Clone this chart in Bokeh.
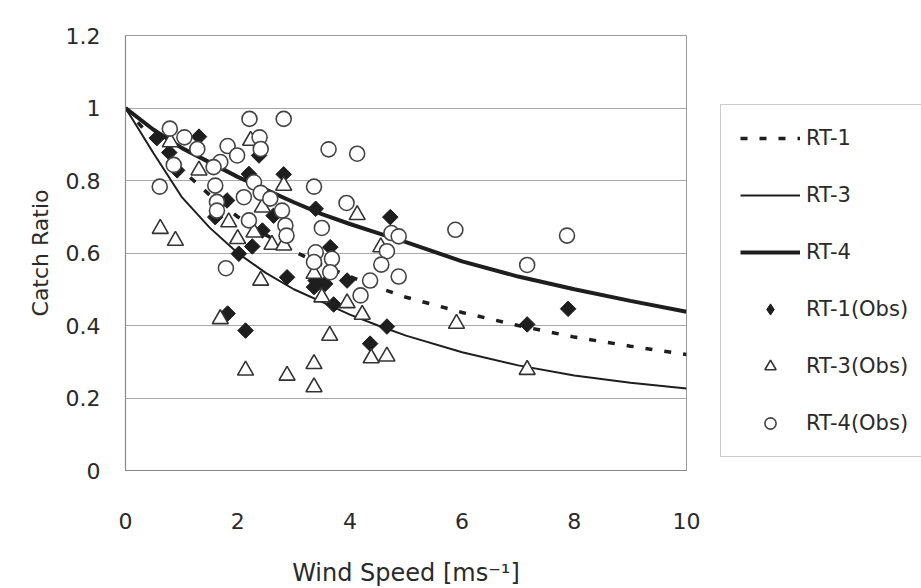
from bokeh.plotting import figure
from bokeh.models import Legend, LegendItem, Range1d, FixedTicker
from bokeh.embed import file_html
from bokeh.resources import INLINE

# ---- data ----
curve_x = [0, 0.5, 1, 1.5, 2, 2.5, 3, 3.5, 4, 4.5, 5, 6, 7, 8, 9, 10]
rt1_curve = [1.0, 0.91, 0.83, 0.76, 0.70, 0.65, 0.605, 0.567, 0.535, 0.505, 0.478, 0.436, 0.40, 0.368, 0.343, 0.32]
rt3_curve = [1.0, 0.875, 0.755, 0.67, 0.60, 0.545, 0.50, 0.465, 0.43, 0.40, 0.372, 0.326, 0.29, 0.262, 0.242, 0.226]
rt4_curve = [1.0, 0.94, 0.89, 0.85, 0.81, 0.775, 0.74, 0.707, 0.68, 0.655, 0.63, 0.577, 0.535, 0.50, 0.468, 0.438]

rt1_obs_x = [0.56, 0.78, 0.92, 1.31, 2.38, 2.20, 2.82, 3.39, 1.60, 1.81, 2.64, 2.44, 2.26, 2.02,
             2.88, 3.36, 3.39, 3.56, 3.95, 4.72, 3.65, 3.71, 4.66, 4.36, 1.82, 2.14, 7.89, 7.16]
rt1_obs_y = [0.917, 0.877, 0.828, 0.921, 0.869, 0.818, 0.817, 0.722, 0.699, 0.745, 0.703, 0.662, 0.618, 0.598,
             0.533, 0.506, 0.524, 0.515, 0.524, 0.699, 0.616, 0.458, 0.397, 0.350, 0.433, 0.386, 0.446, 0.403]

rt3_obs_x = [0.80, 1.31, 2.23, 0.62, 0.89, 1.84, 2.44, 2.29, 2.00, 2.61, 2.82, 2.82, 2.41, 3.36, 1.69,
             2.14, 2.88, 3.36, 3.36, 3.64, 4.38, 4.66, 4.22, 3.50, 3.95, 5.90, 4.13, 4.55, 7.16]
rt3_obs_y = [0.906, 0.828, 0.910, 0.667, 0.634, 0.685, 0.726, 0.657, 0.639, 0.623, 0.621, 0.786, 0.524, 0.543, 0.418,
             0.276, 0.262, 0.294, 0.230, 0.372, 0.310, 0.315, 0.430, 0.478, 0.462, 0.405, 0.705, 0.616, 0.278]

rt4_obs_x = [0.79, 1.05, 1.28, 0.86, 0.61, 2.21, 2.39, 2.41, 1.82, 1.99, 1.69, 1.57, 1.60, 2.29, 2.41,
             2.11, 2.58, 1.63, 1.63, 2.20, 1.79, 2.82, 3.62, 4.13, 3.36, 3.94, 2.79, 2.85, 2.87, 3.50,
             5.88, 4.74, 4.87, 4.66, 3.39, 3.68, 3.36, 4.56, 3.65, 4.87, 4.36, 4.19, 7.16, 7.87]
rt4_obs_y = [0.943, 0.919, 0.887, 0.843, 0.783, 0.970, 0.919, 0.887, 0.895, 0.869, 0.851, 0.837, 0.786, 0.795, 0.766,
             0.754, 0.750, 0.741, 0.717, 0.690, 0.558, 0.970, 0.886, 0.874, 0.783, 0.738, 0.717, 0.676, 0.648, 0.669,
             0.664, 0.655, 0.646, 0.605, 0.602, 0.584, 0.575, 0.568, 0.547, 0.535, 0.524, 0.483, 0.567, 0.648]

x_ticks = [0, 2, 4, 6, 8, 10]
y_ticks = [0, 0.2, 0.4, 0.6, 0.8, 1.0, 1.2]
y_tick_labels = ["0", "0.2", "0.4", "0.6", "0.8", "1", "1.2"]

FONT = "DejaVu Sans"
INK = "#1e1e1e"
TXT = "#2a2a2a"

p = figure(frame_width=561, frame_height=435,
           min_border_left=125, min_border_right=227, min_border_top=35, min_border_bottom=116,
           x_range=Range1d(0, 10), y_range=Range1d(0, 1.2),
           output_backend="svg", toolbar_location=None)

p.outline_line_color = "#9a9a9a"
p.xgrid.grid_line_color = None
p.ygrid.grid_line_color = "#a8a8a8"
p.ygrid.grid_line_width = 1.2

p.xaxis.ticker = FixedTicker(ticks=x_ticks)
p.yaxis.ticker = FixedTicker(ticks=y_ticks)
p.yaxis.major_label_overrides = dict(zip(y_ticks, y_tick_labels))

for ax in (p.xaxis[0], p.yaxis[0]):
    ax.axis_line_color = "#8a8a8a"
    ax.axis_line_width = 1.2
    ax.major_tick_line_color = None
    ax.minor_tick_line_color = None
    ax.major_label_text_font = FONT
    ax.major_label_text_font_size = "22px"
    ax.major_label_text_color = TXT
    ax.axis_label_text_font = FONT
    ax.axis_label_text_font_size = "22px"
    ax.axis_label_text_font_style = "normal"
    ax.axis_label_text_color = TXT

p.xaxis.axis_label = "Wind Speed [ms\u207b\u00b9]"
p.xaxis.axis_label_text_font_size = "24px"
p.yaxis.axis_label = "Catch Ratio"
p.xaxis.major_label_standoff = 36
p.xaxis.axis_label_standoff = 27
p.yaxis.major_label_standoff = 19
p.yaxis.axis_label_standoff = 10

r1 = p.line(curve_x, rt1_curve, line_color=INK, line_width=3.5, line_dash="7 12")
r3 = p.line(curve_x, rt3_curve, line_color=INK, line_width=2)
r4 = p.line(curve_x, rt4_curve, line_color=INK, line_width=4)

# diamond key (drawn underneath the rotated squares; used for the legend swatch)
s1_key = p.scatter(rt1_obs_x, rt1_obs_y, marker="diamond", size=13,
                   fill_color=INK, line_color=INK, line_width=1)
s1 = p.scatter(rt1_obs_x, rt1_obs_y, marker="square", angle=0.7854, size=11,
               fill_color=INK, line_color=INK, line_width=1)
s3 = p.scatter(rt3_obs_x, rt3_obs_y, marker="triangle", size=16,
               fill_color="white", line_color="#333333", line_width=1.6)
s4 = p.scatter(rt4_obs_x, rt4_obs_y, marker="circle", size=15,
               fill_color="white", line_color="#444444", line_width=1.6)

legend = Legend(items=[
    LegendItem(label="RT-1", renderers=[r1]),
    LegendItem(label="RT-3", renderers=[r3]),
    LegendItem(label="RT-4", renderers=[r4]),
    LegendItem(label="RT-1(Obs)", renderers=[s1_key]),
    LegendItem(label="RT-3(Obs)", renderers=[s3]),
    LegendItem(label="RT-4(Obs)", renderers=[s4]),
], location=(34, 13))
legend.border_line_color = "#9a9a9a"
legend.border_line_width = 1.2
legend.background_fill_color = "white"
legend.padding = 19
legend.spacing = 29
legend.glyph_width = 60
legend.glyph_height = 28
legend.label_height = 28
legend.label_standoff = 6
legend.margin = 0
legend.label_text_font = FONT
legend.label_text_font_size = "21px"
legend.label_text_color = TXT
p.add_layout(legend, "right")

open("out.html", "w").write(file_html(p, INLINE))
